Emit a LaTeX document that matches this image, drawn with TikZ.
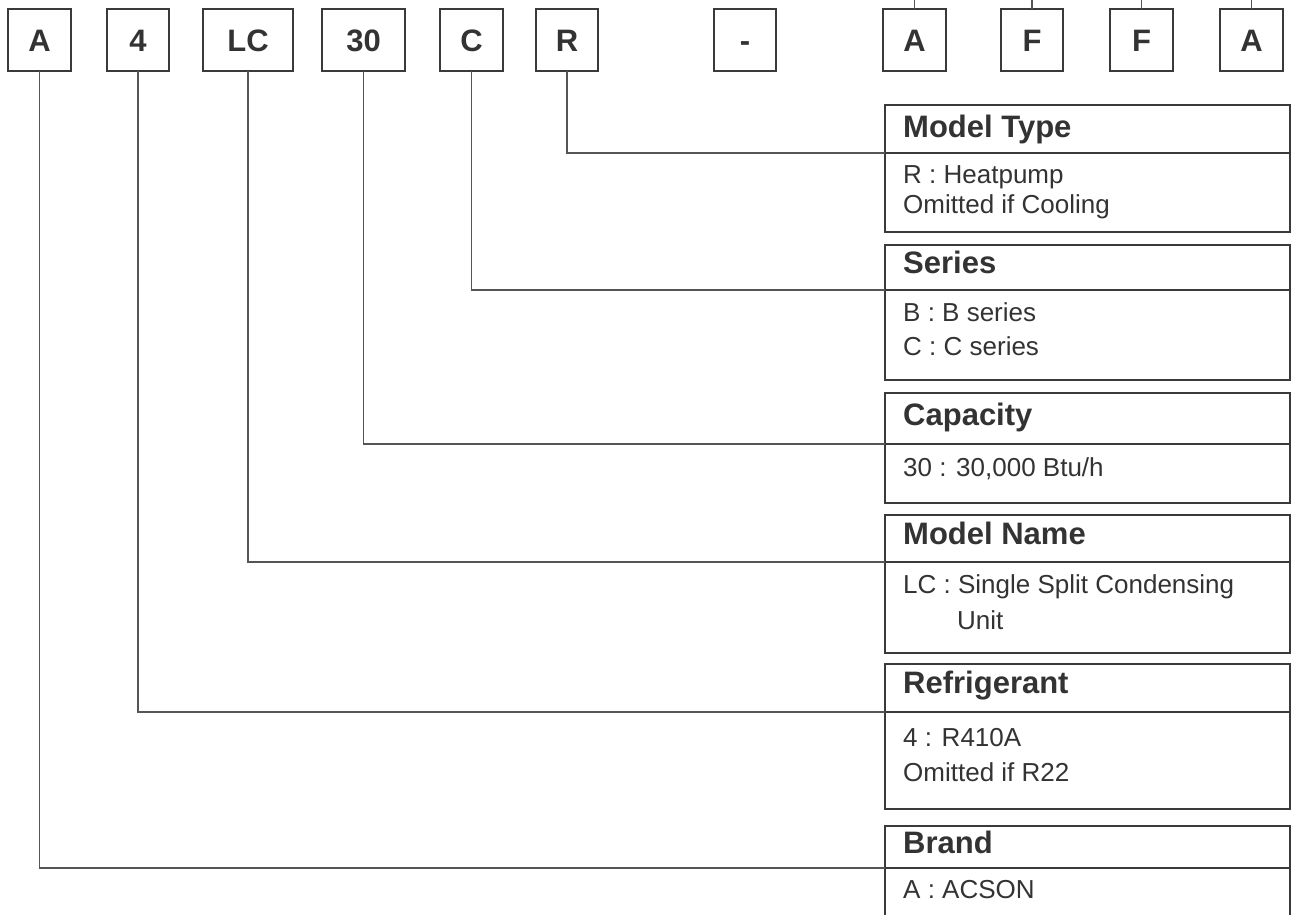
\documentclass[tikz,border=0pt]{standalone}
\usepackage{fontspec}
\setmainfont{Liberation Sans}
\definecolor{ln}{HTML}{3A3A3A}
\definecolor{ld}{HTML}{555555}
\definecolor{tx}{HTML}{333333}
\begin{document}
\begin{tikzpicture}[x=1pt,y=-1pt,
  box/.style={draw=ln, line width=2.4pt, inner sep=0pt, outer sep=0pt},
  lead/.style={draw=ld, line width=1.2pt},
  code/.style={font=\fontsize{31}{31}\selectfont\bfseries, text=tx, text height=22pt, text depth=0pt},
  ttl/.style={anchor=base west, inner sep=0pt, font=\fontsize{31}{31}\selectfont\bfseries, text=tx},
  bdy/.style={anchor=base west, inner sep=0pt, font=\fontsize{26}{26}\selectfont, text=tx}]
\useasboundingbox[fill=white] (0,0) rectangle (1292,914);

% code boxes
\node[box, code, minimum width=63pt, minimum height=62pt] (b1) at (39.5,40) {A};
\node[box, code, minimum width=62pt, minimum height=62pt] (b2) at (138,40) {4};
\node[box, code, minimum width=90pt, minimum height=62pt] (b3) at (248,40) {LC};
\node[box, code, minimum width=83pt, minimum height=62pt] (b4) at (363.5,40) {30};
\node[box, code, minimum width=63pt, minimum height=62pt] (b5) at (471.5,40) {C};
\node[box, code, minimum width=62pt, minimum height=62pt] (b6) at (567,40) {R};
\node[box, code, minimum width=62pt, minimum height=62pt] (b7) at (745,40) {-};
\node[box, code, minimum width=63pt, minimum height=62pt] (r1) at (914.5,40) {A};
\node[box, code, minimum width=62pt, minimum height=62pt] (r2) at (1032,40) {F};
\node[box, code, minimum width=63pt, minimum height=62pt] (r3) at (1141.5,40) {F};
\node[box, code, minimum width=63pt, minimum height=62pt] (r4) at (1251.5,40) {A};

% upward leaders (free ends)
\coordinate (u1) at (r1.north |- 0,0);
\coordinate (u2) at (r2.north |- 0,0);
\coordinate (u3) at (r3.north |- 0,0);
\coordinate (u4) at (r4.north |- 0,0);
\draw[lead] (r1.north) -- (u1);
\draw[lead] (r2.north) -- (u2);
\draw[lead] (r3.north) -- (u3);
\draw[lead] (r4.north) -- (u4);

% description boxes
\node[box, anchor=north west, minimum width=405pt, minimum height=48pt] (t1) at (885,105) {};
\node[box, anchor=north west, minimum width=405pt, minimum height=79pt] (d1) at (885,153) {};
\node[box, anchor=north west, minimum width=405pt, minimum height=45pt] (t2) at (885,245) {};
\node[box, anchor=north west, minimum width=405pt, minimum height=90pt] (d2) at (885,290) {};
\node[box, anchor=north west, minimum width=405pt, minimum height=51pt] (t3) at (885,393) {};
\node[box, anchor=north west, minimum width=405pt, minimum height=59pt] (d3) at (885,444) {};
\node[box, anchor=north west, minimum width=405pt, minimum height=47pt] (t4) at (885,515) {};
\node[box, anchor=north west, minimum width=405pt, minimum height=91pt] (d4) at (885,562) {};
\node[box, anchor=north west, minimum width=405pt, minimum height=48pt] (t5) at (885,664) {};
\node[box, anchor=north west, minimum width=405pt, minimum height=97pt] (d5) at (885,712) {};
\node[box, anchor=north west, minimum width=405pt, minimum height=42pt] (t6) at (885,826) {};
\draw[draw=ln, line width=2.4pt] (t6.south west) -- (885,920);
\draw[draw=ln, line width=2.4pt] (t6.south east) -- (1290,920);

% leaders
\draw[lead] (b6.south) |- (t1.south west);
\draw[lead] (b5.south) |- (t2.south west);
\draw[lead] (b4.south) |- (t3.south west);
\draw[lead] (b3.south) |- (t4.south west);
\draw[lead] (b2.south) |- (t5.south west);
\draw[lead] (b1.south) |- (t6.south west);

% texts
\node[ttl] (h1) at (903,137) {Model Type};
\node[bdy] (x11) at (903,183) {R : Heatpump};
\node[bdy] (x12) at (903,213) {Omitted if Cooling};
\node[ttl] (h2) at (903,273) {Series};
\node[bdy] (x21) at (903,321) {B : B series};
\node[bdy] (x22) at (903,355) {C : C series};
\node[ttl] (h3) at (903,425) {Capacity};
\node[bdy] (x31) at (903,476) {30 : 30,000 Btu/h};
\node[ttl] (h4) at (903,544) {Model Name};
\node[bdy] (x41) at (903,593) {LC : Single Split Condensing};
\node[bdy] (x42) at (957,629) {Unit};
\node[ttl] (h5) at (903,693) {Refrigerant};
\node[bdy] (x51) at (903,746) {4 : R410A};
\node[bdy] (x52) at (903,781) {Omitted if R22};
\node[ttl] (h6) at (903,853) {Brand};
\node[bdy] (x61) at (903,898) {A : ACSON};
\end{tikzpicture}
\end{document}
